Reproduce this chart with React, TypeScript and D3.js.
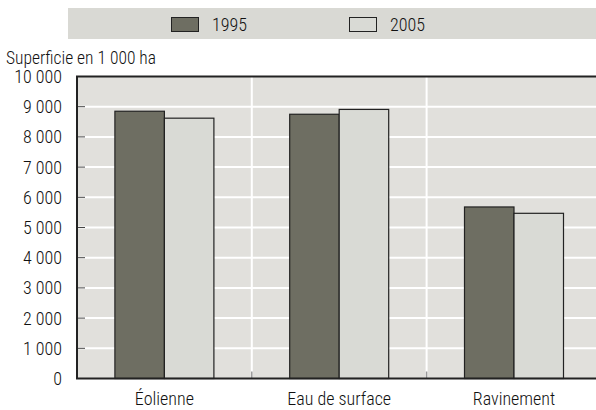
import React from "react";
import * as d3 from "d3";

const categories = ["Éolienne", "Eau de surface", "Ravinement"];
const series = ["1995", "2005"];
const values1995 = [8850, 8750, 5680];
const values2005 = [8620, 8910, 5470];
const yTicks = [0, 1000, 2000, 3000, 4000, 5000, 6000, 7000, 8000, 9000, 10000];
const yTitle = "Superficie en 1 000 ha";

const W = 596, H = 410;
const left = 77, top = 76.5, bottom = 378.5;
const catW = 174.8;
const right = left + catW * 3;
const colors = ["#6e6e62", "#d9dad5"];
const font = "'Roboto Condensed', 'Liberation Sans Narrow', sans-serif";
const fs = 18;

const fmt = (v: number) => String(v).replace(/\B(?=(\d{3})+(?!\d))/g, " ");

export default function App() {
  const x = d3.scaleBand().domain(categories).range([left, right]).paddingInner(0).paddingOuter(0);
  const y = d3.scaleLinear().domain([0, 10000]).range([bottom, top]);
  const barW = 49.5;
  const data = [values1995, values2005];
  const inner = yTicks.filter(t => t > 0 && t < 10000);
  return (
    <svg width={W} height={H} style={{ position: "absolute", left: 0, top: 0 }} fontFamily={font} fontWeight={300}>
      <rect x={68} y={8} width={W - 68} height={31} fill="#d9d9d4" />
      {series.map((s, i) => {
        const sx = i === 0 ? 171 : 349;
        return (
          <g key={s}>
            <rect x={sx + 0.5} y={17.5} width={27} height={14} fill={colors[i]} stroke="#222" strokeWidth={1} />
            <text x={sx + 41} y={31} fontSize={fs} fill="#111">{s}</text>
          </g>
        );
      })}
      <text x={6} y={64} fontSize={fs} fill="#111" textLength={150} lengthAdjust="spacingAndGlyphs">{yTitle}</text>
      <rect x={left} y={top} width={right - left} height={bottom - top} fill="#e1e0dc" />
      {inner.map(t => (
        <line key={t} x1={left} x2={right} y1={y(t)} y2={y(t)} stroke="#fff" strokeWidth={2} />
      ))}
      {categories.slice(1).map(c => (
        <line key={c} x1={x(c)!} x2={x(c)!} y1={top} y2={bottom} stroke="#fff" strokeWidth={2} />
      ))}
      {categories.slice(1).map(c => (
        <line key={c + "t"} x1={x(c)!} x2={x(c)!} y1={bottom - 7} y2={bottom} stroke="#999" strokeWidth={1.5} />
      ))}
      {inner.map(t => (
        <line key={t + "k"} x1={left} x2={left + 8} y1={y(t)} y2={y(t)} stroke="#444" strokeWidth={1} />
      ))}
      {categories.map((c, ci) => {
        const cx = x(c)! + x.bandwidth() / 2;
        return series.map((s, si) => {
          const v = data[si][ci];
          const bx = cx - barW + si * barW;
          return (
            <rect key={c + s} x={bx} y={y(v)} width={barW} height={bottom - y(v)}
              fill={colors[si]} stroke="#222" strokeWidth={1.2} />
          );
        });
      })}
      <path d={`M${right},${top}H${left}V${bottom}H${right}`} fill="none" stroke="#222" strokeWidth={2} />
      {yTicks.map(t => (
        <text key={t} x={62} y={y(t) + 6.5} fontSize={fs} fill="#111" textAnchor="end">{fmt(t)}</text>
      ))}
      {categories.map(c => (
        <text key={c} x={x(c)! + x.bandwidth() / 2} y={405} fontSize={fs} fill="#111" textAnchor="middle">{c}</text>
      ))}
    </svg>
  );
}
